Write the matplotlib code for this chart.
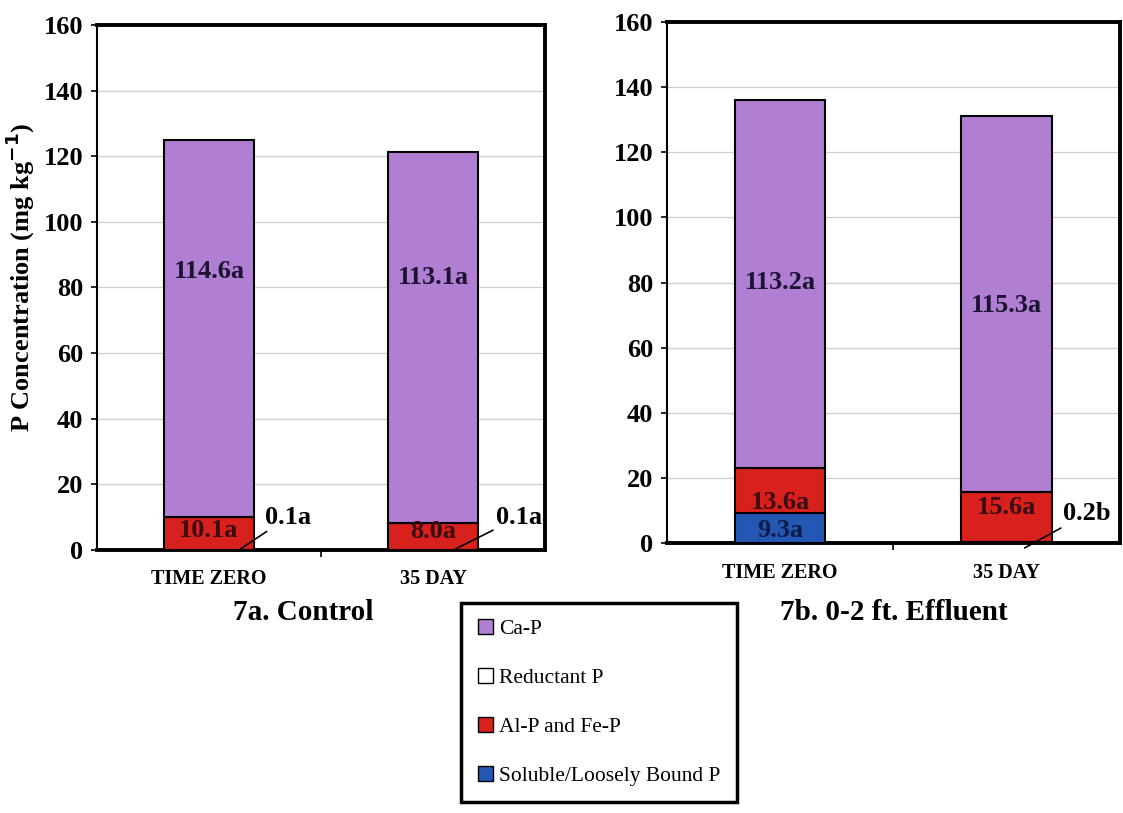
import matplotlib
matplotlib.use("Agg")
import matplotlib.pyplot as plt
from matplotlib.patches import Patch

plt.rcParams['font.family'] = ['Liberation Serif', 'DejaVu Serif']

# P fractions (mg/kg) for each sampling time
times = ['TIME ZERO', '35 DAY']
panels = ['7a. Control', '7b. 0-2 ft. Effluent']

soluble = [[0.1, 0.1], [9.3, 0.2]]
alfe = [[10.1, 8.0], [13.6, 15.6]]
reductant = [[0.0, 0.0], [0.0, 0.0]]
cap = [[114.6, 113.1], [113.2, 115.3]]

soluble_txt = [['0.1a', '0.1a'], ['9.3a', '0.2b']]
alfe_txt = [['10.1a', '8.0a'], ['13.6a', '15.6a']]
cap_txt = [['114.6a', '113.1a'], ['113.2a', '115.3a']]

# label heights (data units) where the numbers sit inside the bars
cap_y = [[85, 83], [80, 73]]
alfe_y = [[5.8, 5.5], [12.5, 10.8]]

c_cap = '#b07ed2'
c_red = '#d8201c'
c_blue = '#2456b4'
txt_col = '#1c1233'

fig = plt.figure(figsize=(11.23, 8.13), dpi=100)
axes = [fig.add_axes([0.0864, 0.3235, 0.399, 0.6458]),
        fig.add_axes([0.594, 0.332, 0.403, 0.641])]
title_x = [0.46, 0.5]
title_y = [-0.12, -0.134]

x = [0, 1]
w = 0.40
for k, ax in enumerate(axes):
    b1 = soluble[k]
    b2 = [a + b for a, b in zip(b1, alfe[k])]
    b3 = [a + b for a, b in zip(b2, reductant[k])]
    ax.bar(x, soluble[k], w, color=c_blue, edgecolor='black', linewidth=1.5, zorder=3)
    ax.bar(x, alfe[k], w, bottom=b1, color=c_red, edgecolor='black', linewidth=1.5, zorder=3)
    ax.bar(x, reductant[k], w, bottom=b2, color='white', edgecolor='black', linewidth=1.5, zorder=3)
    ax.bar(x, cap[k], w, bottom=b3, color=c_cap, edgecolor='black', linewidth=1.5, zorder=3)

    for i in x:
        ax.text(i, cap_y[k][i], cap_txt[k][i], ha='center', va='center',
                fontsize=19, fontweight='bold', color=txt_col, zorder=4)
        ax.text(i, alfe_y[k][i], alfe_txt[k][i], ha='center', va='center',
                fontsize=19, fontweight='bold', color='#3a0d10', zorder=4)

    ax.set_xlim(-0.5, 1.5)
    ax.set_ylim(0, 160)
    ax.set_yticks(range(0, 161, 20))
    ax.yaxis.grid(True, color='#cfcfcf', linewidth=0.9, zorder=0)
    ax.set_axisbelow(True)
    ax.set_xticks(x)
    ax.set_xticklabels(times, fontsize=14.5, fontweight='bold')
    ax.set_xticks([0.5], minor=True)
    ax.tick_params(axis='x', which='major', length=0, pad=14)
    ax.tick_params(axis='x', which='minor', length=5, width=1.2, direction='out')
    ax.tick_params(axis='y', labelsize=19, length=4, width=1.2, pad=6)
    for lab in ax.get_yticklabels():
        lab.set_fontweight('bold')
    for side in ['top', 'right', 'bottom']:
        ax.spines[side].set_linewidth(2.8)
    ax.spines['left'].set_linewidth(1.5)
    ax.text(title_x[k], title_y[k], panels[k], transform=ax.transAxes,
            ha='center', va='center', fontsize=21, fontweight='bold')

# small soluble-P values with leader lines
axes[0].annotate(soluble_txt[0][0], xy=(0.14, 0.3), xytext=(0.25, 10),
                 ha='left', va='center', fontsize=19, fontweight='bold',
                 arrowprops=dict(arrowstyle='-', color='black', lw=1.2,
                                 shrinkA=0, shrinkB=0))
axes[0].annotate(soluble_txt[0][1], xy=(1.10, 0.3), xytext=(1.28, 10),
                 ha='left', va='center', fontsize=19, fontweight='bold',
                 arrowprops=dict(arrowstyle='-', color='black', lw=1.2,
                                 shrinkA=0, shrinkB=0))
axes[1].annotate(soluble_txt[1][1], xy=(1.08, -1.5), xytext=(1.25, 9),
                 ha='left', va='center', fontsize=19, fontweight='bold',
                 annotation_clip=False,
                 arrowprops=dict(arrowstyle='-', color='black', lw=1.2,
                                 shrinkA=0, shrinkB=0))
axes[1].text(0, 3.8, soluble_txt[1][0], ha='center', va='center',
             fontsize=19, fontweight='bold', color='#0f1c4a', zorder=4)

axes[0].set_ylabel('P Concentration (mg kg$^{\\mathbf{-1}}$)', fontsize=19,
                   fontweight='bold')
axes[0].yaxis.set_label_coords(-0.135, 0.52)

handles = [Patch(facecolor=c_cap, edgecolor='black', label='Ca-P'),
           Patch(facecolor='white', edgecolor='black', label='Reductant P'),
           Patch(facecolor=c_red, edgecolor='black', label='Al-P and Fe-P'),
           Patch(facecolor=c_blue, edgecolor='black', label='Soluble/Loosely Bound P')]
leg = fig.legend(handles=handles, loc='center', bbox_to_anchor=(0.5334, 0.136),
                 fontsize=15.5, frameon=True, fancybox=False, edgecolor='black',
                 framealpha=1, handlelength=0.7, handleheight=0.7,
                 handletextpad=0.3, labelspacing=1.35, borderpad=0.75,
                 borderaxespad=0)
leg.get_frame().set_linewidth(2.5)

fig.savefig('out.png', dpi=100)
